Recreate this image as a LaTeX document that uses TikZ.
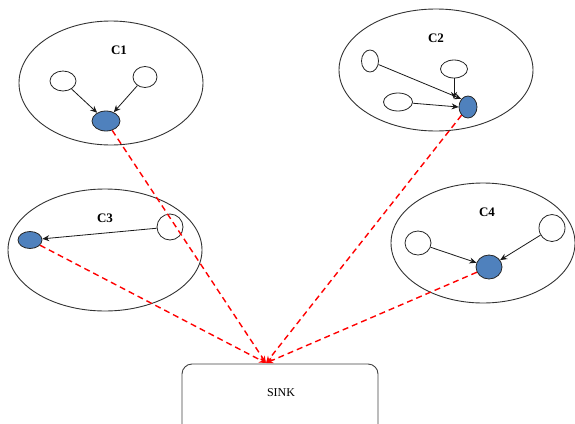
\documentclass[tikz,border=0pt]{standalone}
\usepackage{fontspec}
\setmainfont{Liberation Serif}
\usetikzlibrary{shapes.geometric,arrows.meta}
\definecolor{nodeblue}{RGB}{79,129,189}
\tikzset{
  cluster/.style={draw=black!80, line width=0.9pt, ellipse, inner sep=0pt},
  wnode/.style={draw=black!85, fill=white, line width=0.8pt, ellipse, inner sep=0pt},
  bnode/.style={draw=black!85, fill=nodeblue, line width=0.8pt, ellipse, inner sep=0pt},
  lbl/.style={font=\bfseries\fontsize{13}{15}\selectfont},
  link/.style={draw=black!90, line width=0.8pt, -{Stealth[length=7pt,width=6pt]}},
  radio/.style={draw=red, line width=1.4pt, dash pattern=on 6pt off 4pt, -{Stealth[length=7pt,width=6pt]}},
  sinkbox/.style={draw=black!75, line width=0.9pt, rounded corners=10pt}
}
\begin{document}
\begin{tikzpicture}[x=1pt,y=-1pt]
\useasboundingbox (0,0) rectangle (575,423);
\clip (0,0) rectangle (575,423);
% clusters
\node[cluster, minimum width=184pt, minimum height=124pt] (c1) at (111,83) {};
\node[cluster, minimum width=194pt, minimum height=122pt] (c2) at (436,70) {};
\node[cluster, minimum width=194pt, minimum height=122pt] (c3) at (105,250) {};
\node[cluster, minimum width=184pt, minimum height=120pt] (c4) at (483,243) {};
% labels
\node[lbl] (l1) at (119,50) {C1};
\node[lbl] (l2) at (436,38) {C2};
\node[lbl] (l3) at (105,218) {C3};
\node[lbl] (l4) at (487,212) {C4};
% C1
\node[wnode, minimum width=26pt, minimum height=20pt] (a1) at (63,81) {};
\node[wnode, minimum width=24pt, minimum height=21pt] (a2) at (145,77) {};
\node[bnode, minimum width=28pt, minimum height=20pt] (h1) at (106,121) {};
% C2
\node[wnode, minimum width=17pt, minimum height=22pt] (b1) at (370,61) {};
\node[wnode, minimum width=27pt, minimum height=18pt] (b2) at (454,69) {};
\node[wnode, minimum width=29pt, minimum height=18pt] (b3) at (398,102) {};
\node[bnode, minimum width=18pt, minimum height=22pt] (h2) at (468,107) {};
% C3
\node[wnode, minimum width=26pt, minimum height=26pt] (d1) at (170,227) {};
\node[bnode, minimum width=24pt, minimum height=17pt] (h3) at (30,240) {};
% C4
\node[wnode, minimum width=26pt, minimum height=24pt] (e1) at (418,243) {};
\node[wnode, minimum width=26pt, minimum height=27pt] (e2) at (552,228) {};
\node[bnode, minimum width=26pt, minimum height=24pt] (h4) at (489,267) {};
% sink
\draw[sinkbox] (182,440) -- (182,364) -- (378,364) -- (378,440);
\node (sinklbl) at (281,393) {\fontsize{12}{14}\selectfont SINK};
\coordinate (s) at (266,363);
% intra-cluster links
\draw[link] (a1) -- (h1);
\draw[link] (a2) -- (h1);
\draw[link] (b1) -- (h2.north west);
\draw[link] (b3) -- (h2.west);
\draw[link] (b2.south) -- (b2.south |- h2.north west);
\draw[link] (d1) -- (h3);
\draw[link] (e1) -- (h4);
\draw[link] (e2) -- (h4);
% radio links to sink
\draw[radio] (h1) -- (s);
\draw[radio] (h2) -- (s);
\draw[radio] (h3) -- (s);
\draw[radio] (h4) -- (s);
\end{tikzpicture}
\end{document}
